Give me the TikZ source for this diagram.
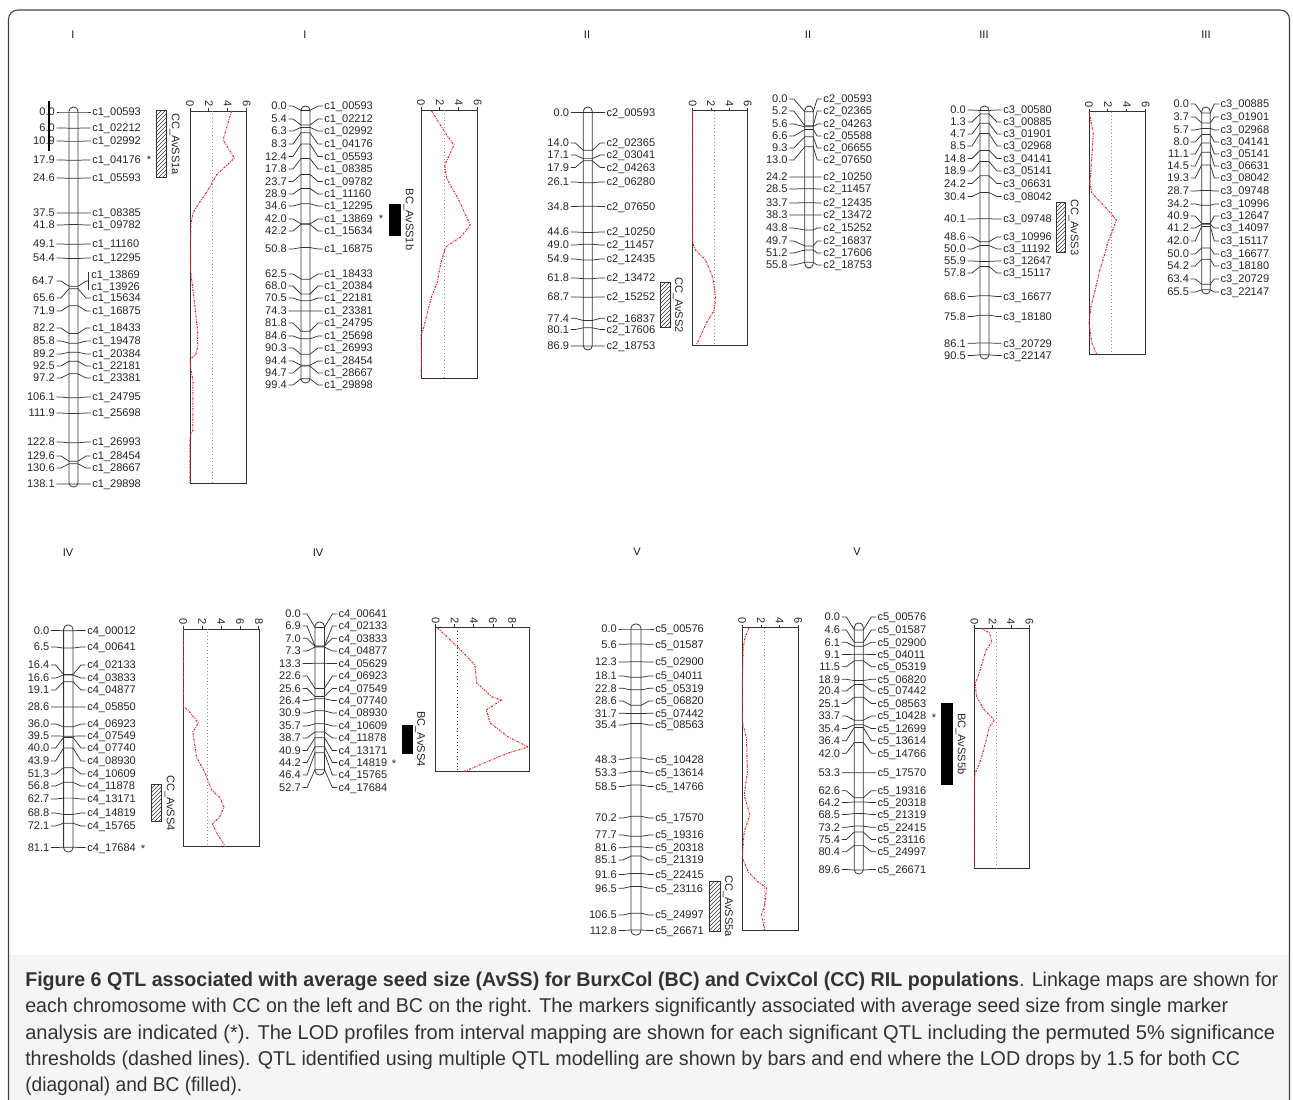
\documentclass[tikz,border=0pt]{standalone}
\usepackage{fontspec}
\usepackage{graphicx}
\setmainfont{Liberation Sans}
\newfontfamily\mapfam{Liberation Sans}
\newfontfamily\capfam{Liberation Sans}
\usetikzlibrary{patterns}
\definecolor{lodred}{RGB}{235,45,45}
\definecolor{capgray}{RGB}{245,245,245}
\newcommand\mapfont{\mapfam\fontsize{8.3}{9.5}\selectfont}
\newcommand\capfont{\capfam\fontsize{15}{18}\selectfont}
\def\gapL{14}\def\gapR{14}
\tikzset{
  lbl/.style={font=\mapfont, inner sep=0pt, text height=5.9pt, text depth=0pt, text=black!85},
  numlbl/.style={lbl, anchor=east},
  namelbl/.style={lbl, anchor=west},
  mapline/.style={draw=black!80, line width=0.55pt},
  chrom/.style={draw=black!80, line width=0.6pt, rounded corners=3.2pt},
  lodbox/.style={draw=black!80, line width=0.7pt},
  thresh/.style={draw=black!45, dotted, line width=0.6pt},
  lodcurve/.style={draw=lodred, line width=0.8pt, dash pattern=on 1.6pt off 0.9pt on 0.6pt off 0.9pt},
  ccbar/.style={draw=black!80, line width=0.6pt, pattern=north east lines, pattern color=black!80},
  bcbar/.style={fill=black, draw=black},
  qtltxt/.style={font=\mapfont, rotate=-90, anchor=south, inner sep=1pt, text=black!85},
  ticklbl/.style={font=\mapfont, rotate=-90, anchor=east, inner sep=0.5pt, text=black!85},
  chrtitle/.style={font=\mapfont, inner sep=0pt, text=black!90},
  star/.style={lbl},
  capline/.style={anchor=base west, inner sep=0pt, font=\capfont, text=black!80},
}
% #1 id, #2 xc, #3 hw, #4 y of 0 cM, #5 px per cM, #6 top, #7 bottom, #8 prefix, #9 list cM/ylabel/name
\newcommand{\chrmap}[9]{%
  \def\xc{#2}\def\hw{#3}\def\yz{#4}\def\sc{#5}\def\pre{#8}%
  \draw[chrom] (#2-#3,#6) rectangle (#2+#3,#7);
  \foreach \cm/\yl/\nm [count=\k] in {#9} {%
    \pgfmathsetmacro\ya{\yz+\cm*\sc}%
    \draw[mapline] (\xc-\hw-\gapL+1.5,\yl) -- (\xc-\hw-\gapL+6,\yl) -- (\xc-\hw,\ya) -- (\xc+\hw,\ya) -- (\xc+\hw+\gapR-6,\yl) -- (\xc+\hw+\gapR-1.5,\yl);
    \node[numlbl] (#1n\k) at (\xc-\hw-\gapL,\yl) {\cm};
    \node[namelbl] (#1m\k) at (\xc+\hw+\gapR,\yl) {\pre\_\nm};
  }}
% #1 x0, #2 unit per LOD, #3 top, #4 bottom, #5 ticks, #6 max, #7 threshold, #8 curve
\newcommand{\lodpanel}[8]{%
  \begin{scope}[shift={(#1,0)},x=#2]
    \draw[lodbox] (0,#3) rectangle (#6,#4);
    \draw[thresh] (#7,#3) -- (#7,#4);
    \foreach \t in {#5} {\draw[lodbox] (\t,#3) -- (\t,#3-3) node[ticklbl] {\t};}
    \draw[lodcurve] plot coordinates {#8};
  \end{scope}}
\begin{document}
\begin{tikzpicture}[x=0.75pt,y=-0.75pt]
\useasboundingbox (0,0) rectangle (1293,1100);
% frame and caption background
\fill[capgray] (8.5,955) rectangle (1289.5,1100);
\draw[black!75, line width=0.8pt, rounded corners=7pt] (8.5,1120) -- (8.5,10) -- (1289.5,10) -- (1289.5,1120);

% chromosome titles
\node[chrtitle] (tI1) at (73,35) {I};
\node[chrtitle] (tI2) at (305,35) {I};
\node[chrtitle] (tII1) at (587,35) {II};
\node[chrtitle] (tII2) at (808,35) {II};
\node[chrtitle] (tIII1) at (984,35) {III};
\node[chrtitle] (tIII2) at (1206,35) {III};
\node[chrtitle] (tIV1) at (68,553) {IV};
\node[chrtitle] (tIV2) at (318,553) {IV};
\node[chrtitle] (tV1) at (637,552) {V};
\node[chrtitle] (tV2) at (857,552) {V};

% ---------- Chr I CC ----------
\chrmap{a}{73.5}{4.5}{112}{2.694}{107}{487}{c1}{0.0/112/00593, 6.0/128/02212, 10.9/141/02992, 17.9/160/04176, 24.6/178/05593, 37.5/213/08385, 41.8/225/09782, 49.1/244/11160, 54.4/258/12295, 65.6/298/15634, 71.9/311/16875, 82.2/328/18433, 85.8/341/19478, 89.2/354/20384, 92.5/366/22181, 97.2/378/23381, 106.1/397/24795, 111.9/413/25698, 122.8/442/26993, 129.6/456/28454, 130.6/468/28667, 138.1/484/29898}
\draw[mapline] (56.5,281) -- (61,281) -- (69,286.3) -- (78,286.3) -- (86,281) -- (88.5,281);
\draw[mapline] (88.5,272) -- (88.5,290);
\node[numlbl] (an64) at (54,281) {64.7};
\node[namelbl] (am64a) at (91,274.5) {c1\_13869};
\node[namelbl] (am64b) at (91,287) {c1\_13926};
\draw[black, line width=1.5pt] (49,101) -- (49,151);
\node[star] (sa) at (149,160) {*};
\draw[ccbar] (156.7,110.7) rectangle (166.7,177.3);
\node[qtltxt] (qa) at (168,144) {CC\_AvSS1a};
\lodpanel{190}{7.0875pt}{111}{483}{0,2,4,6}{6}{2.4}{(4.4,111) (3.5,140) (4.7,158) (2.8,175) (2.1,187) (0.35,212) (0.1,223) (0.05,250) (0.05,270) (0.35,293) (0.6,313) (0.8,330) (0.8,347) (0.6,355) (0,359) (0.1,370) (0.3,380) (0.3,430) (0,437) (0,483)}

% ---------- Chr I BC ----------
\chrmap{b}{305.5}{4.5}{110.4}{2.7}{106}{383}{c1}{0.0/106/00593, 5.4/119/02212, 6.3/131/02992, 8.3/144/04176, 12.4/156.5/05593, 17.8/169/08385, 23.7/181.5/09782, 28.9/194/11160, 34.6/206/12295, 42.0/219/13869, 42.2/231/15634, 50.8/249/16875, 62.5/274/18433, 68.0/286/20384, 70.5/298/22181, 74.3/311/23381, 81.8/323/24795, 84.6/336/25698, 90.3/348/26993, 94.4/361/28454, 94.7/373/28667, 99.4/385/29898}
\node[star] (sb) at (381,218.5) {*};
\draw[bcbar] (389.3,204.3) rectangle (400.7,235);
\node[qtltxt] (qb) at (402,219.6) {BC\_AvSS1b};
\lodpanel{421}{7.0875pt}{110}{378.3}{0,2,4,6}{6}{2.5}{(1.1,110.7) (2.5,131.7) (3.5,145) (2.5,165) (2.7,178) (4.0,200) (5.2,225) (4.2,237) (2.6,247) (2.1,263) (1.7,283) (1.1,297) (0.3,327) (0,335) (0.05,360) (0,378)}

% ---------- Chr II CC ----------
\chrmap{c}{587.8}{4.5}{112.7}{2.685}{107}{350}{c2}{0.0/112.7/00593, 14.0/143/02365, 17.1/155/03041, 17.9/167.5/04263, 26.1/182/06280, 34.8/206.5/07650, 44.6/232/10250, 49.0/245/11457, 54.9/259/12435, 61.8/278/13472, 68.7/297/15252, 77.4/318.3/16837, 80.1/329.5/17606, 86.9/346/18753}
\draw[ccbar] (660.7,282.7) rectangle (670,327.3);
\node[qtltxt] (qc) at (671.3,305) {CC\_AvSS2};
\lodpanel{692.7}{6.8775pt}{110.7}{345}{0,2,4,6}{6}{2.4}{(0,110.7) (0,243) (0.3,250) (1.4,260) (2.2,278) (2.5,298) (2.35,310) (1.5,323) (0.4,345)}

% ---------- Chr II BC ----------
\begingroup
\def\gapL{17}\def\gapR{10}
\chrmap{d}{809}{4.2}{111.7}{2.7}{106}{268}{c2}{0.0/99/00593, 5.2/111/02365, 5.6/124/04263, 6.6/136/05588, 9.3/148/06655, 13.0/160/07650, 24.2/177/10250, 28.5/189/11457, 33.7/203/12435, 38.3/215/13472, 43.8/228/15252, 49.7/241/16837, 51.2/253/17606, 55.8/265/18753}
\endgroup

% ---------- Chr III CC ----------
\chrmap{e}{984.5}{4.5}{110.5}{2.7}{106}{359}{c3}{0.0/110/00580, 1.3/122/00885, 4.7/134/01901, 8.5/146/02968, 14.8/158.5/04141, 18.9/171/05141, 24.2/183.5/06631, 30.4/196.5/08042, 40.1/219/09748, 48.6/237/10996, 50.0/249/11192, 55.9/261/12647, 57.8/273/15117, 68.6/296.5/16677, 75.8/316.5/18180, 86.1/343.3/20729, 90.5/355.5/22147}
\draw[ccbar] (1056.7,202.7) rectangle (1065.7,252.3);
\node[qtltxt] (qe) at (1067,227.5) {CC\_AvSS3};
\lodpanel{1089}{7.0875pt}{111.7}{354.3}{0,2,4,6}{6}{2.4}{(0,111.7) (0.45,133) (0.3,157) (0.1,183) (0.3,193) (2.0,210) (2.9,220) (2.4,233) (2.0,242) (1.7,253) (1.15,270) (0.65,290) (0.2,307) (0,323) (0.3,343) (0.8,354)}

% ---------- Chr III BC ----------
\begingroup
\def\gapL{12.5}\def\gapR{10}
\chrmap{f}{1206}{4.3}{113}{2.7}{107}{294}{c3}{0.0/104/00885, 3.7/117/01901, 5.7/130/02968, 8.0/142/04141, 11.1/154/05141, 14.5/166/06631, 19.3/178/08042, 28.7/191/09748, 34.2/204/10996, 40.9/216/12647, 41.2/228/14097, 42.0/241/15117, 50.0/254/16677, 54.2/266/18180, 63.4/279/20729, 65.5/292/22147}
\endgroup

% ---------- Chr IV CC ----------
\chrmap{g}{68.3}{4.7}{630.7}{2.67}{625}{852}{c4}{0.0/630.5/00012, 6.5/647/00641, 16.4/665/02133, 16.6/678/03833, 19.1/690/04877, 28.6/707/05850, 36.0/724/06923, 39.5/736/07549, 40.0/748/07740, 43.9/761/08930, 51.3/774/10609, 56.8/786/11878, 62.7/799/13171, 68.8/813/14819, 72.1/826/15765, 81.1/847.5/17684}
\node[star] (sg) at (143,849) {*};
\draw[ccbar] (151,784.3) rectangle (161.7,821.7);
\node[qtltxt] (qg) at (163,803) {CC\_AvSS4};
\lodpanel{183.3}{7.0875pt}{629}{846.7}{0,2,4,6,8}{8.04}{2.5}{(0,629) (0,706.7) (0.5,710) (1.6,723) (1.0,732) (1.4,757) (2.3,773) (3.0,790) (3.9,798) (4.3,807) (3.85,817) (3.1,824) (3.55,833) (4.45,846.7)}

% ---------- Chr IV BC ----------
\chrmap{h}{319.7}{4.7}{627.4}{2.7}{622}{775}{c4}{0.0/614/00641, 6.9/626/02133, 7.0/638.3/03833, 7.3/651/04877, 13.3/663.5/05629, 22.6/676/06923, 25.6/688.5/07549, 26.4/700.5/07740, 30.9/713/08930, 35.7/726/10609, 38.7/738/11878, 40.9/750.5/13171, 44.2/762.5/14819, 46.4/775/15765, 52.7/787.5/17684}
\node[star] (sh) at (394,764) {*};
\draw[bcbar] (402.7,725) rectangle (412.3,753.3);
\node[qtltxt] (qh) at (413.5,739) {BC\_AvSS4};
\begingroup
\tikzset{thresh/.style={draw=black!85, dotted, line width=0.6pt}}
\lodpanel{435.7}{7.1625pt}{627.3}{771.7}{0,2,4,6,8}{9.77}{2.3}{(0.2,628) (2.3,647) (4.1,665) (4.3,683) (5.9,697) (6.9,700) (5.3,710) (5.7,723) (7.6,737) (9.7,747) (7.6,753) (2.9,771.7)}
\endgroup

% ---------- Chr V CC ----------
\chrmap{i}{636}{5}{629}{2.668}{624}{935}{c5}{0.0/629/00576, 5.6/644.3/01587, 12.3/662/02900, 18.1/676/04011, 22.8/688.3/05319, 28.6/701/06820, 31.7/713.3/07442, 35.4/725/08563, 48.3/759.3/10428, 53.3/773/13614, 58.5/786.5/14766, 70.2/818/17570, 77.7/835/19316, 81.6/847.7/20318, 85.1/860/21319, 91.6/874.5/22415, 96.5/888.3/23116, 106.5/915/24997, 112.8/930.5/26671}
\draw[ccbar] (709.3,881) rectangle (720,931);
\node[qtltxt] (qi) at (721.3,906) {CC\_AvSS5a};
\lodpanel{742.3}{6.9975pt}{627.7}{930}{0,2,4,6}{6}{2.4}{(0.7,628.3) (0.3,637) (0.1,648) (0,680) (0,722) (0.45,738) (0.55,772) (0.2,795) (0.8,815) (0.2,832) (0,858) (0.65,872) (1.7,882) (2.6,888) (2.4,905) (2.05,915) (2.4,930)}

% ---------- Chr V BC ----------
\chrmap{j}{858.8}{4.5}{629.9}{2.68}{623}{874}{c5}{0.0/617/00576, 4.6/630/01587, 6.1/642.3/02900, 9.1/654.5/04011, 11.5/666.7/05319, 18.9/679.3/06820, 20.4/691/07442, 25.1/703.5/08563, 33.7/716/10428, 35.4/728.5/12699, 36.4/740.7/13614, 42.0/753.3/14766, 53.3/772.7/17570, 62.6/790.7/19316, 64.2/802.5/20318, 68.5/814.5/21319, 73.2/827.3/22415, 75.4/839.5/23116, 80.4/851.7/24997, 89.6/869.5/26671}
\node[star] (sj) at (934,718) {*};
\draw[bcbar] (941.7,703.3) rectangle (952.7,784.3);
\node[qtltxt] (qj) at (954,743.8) {BC\_AvSS5b};
\lodpanel{974.3}{6.8775pt}{628.3}{868.3}{0,2,4,6}{6}{2.4}{(0.8,628.3) (1.65,633) (1.9,642) (1.3,650) (0.95,660) (0.4,677) (0.1,683) (0.25,697) (1.1,710) (2.2,720) (1.65,727) (1.3,740) (0.8,757) (0.4,767) (0.1,773) (0,780) (0,868.3)}

% ---------- caption ----------
\node[capline] (cap1) at (25,986.5) {\resizebox{939.75pt}{\height}{\textbf{Figure 6 QTL associated with average seed size (AvSS) for BurxCol (BC) and CvixCol (CC) RIL populations}. Linkage maps are shown for}};
\node[capline] (cap2) at (25,1012.8) {\resizebox{902.25pt}{\height}{each chromosome with CC on the left and BC on the right. The markers significantly associated with average seed size from single marker}};
\node[capline] (cap3) at (25,1039) {\resizebox{937.5pt}{\height}{analysis are indicated (*). The LOD profiles from interval mapping are shown for each significant QTL including the permuted 5\% significance}};
\node[capline] (cap4) at (25,1065.4) {\resizebox{911.25pt}{\height}{thresholds (dashed lines). QTL identified using multiple QTL modelling are shown by bars and end where the LOD drops by 1.5 for both CC}};
\node[capline] (cap5) at (25,1091.7) {\resizebox{162.75pt}{\height}{(diagonal) and BC (filled).}};
\end{tikzpicture}
\end{document}
